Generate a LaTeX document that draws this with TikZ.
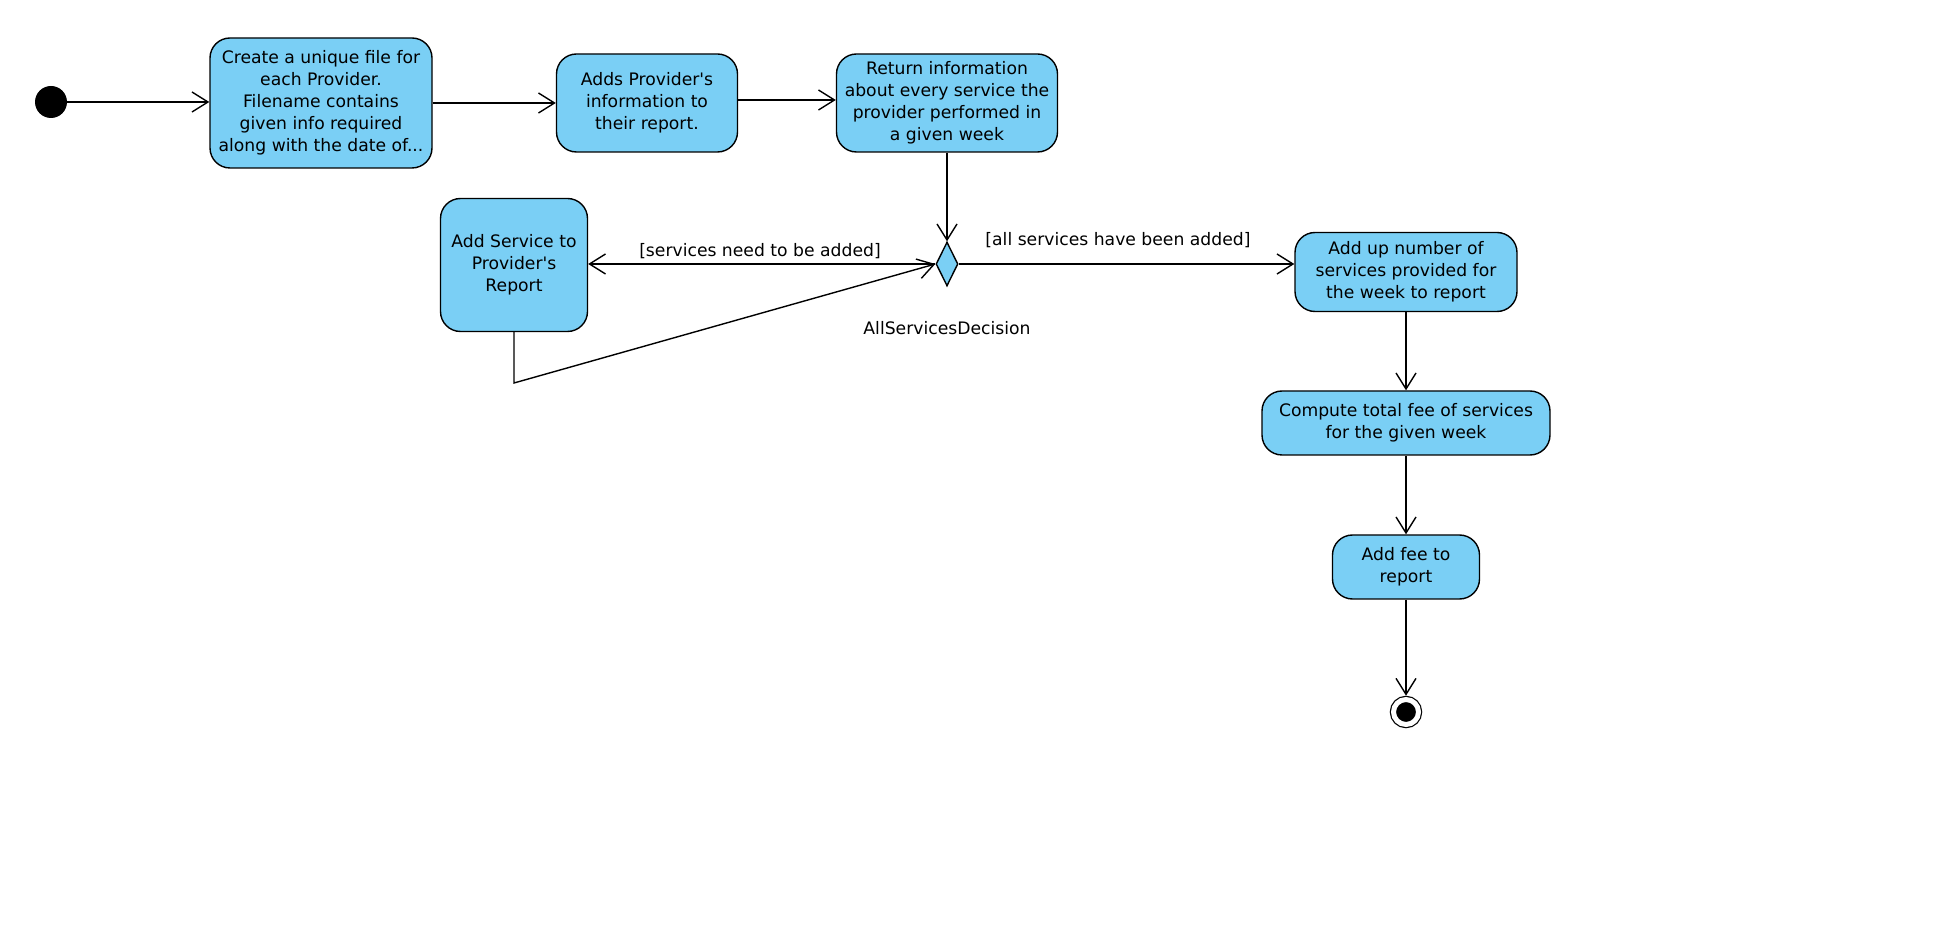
\documentclass[tikz,border=0pt]{standalone}
\usepackage{fontspec}
\setmainfont{DejaVu Sans}
\usepackage{tikz}
\usetikzlibrary{positioning,shapes,shapes.geometric,arrows.meta,calc}
\usepackage{xcolor}
\definecolor{actblue}{RGB}{122,207,245}

\begin{document}
\begin{tikzpicture}[
    x=0.5pt, y=-0.5pt,
    activity/.style={rectangle, draw, line width=0.7pt, fill=actblue, rounded corners=10pt, align=center, font=\fontsize{8.6}{11}\selectfont, inner sep=2pt},
    decision/.style={diamond, draw, line width=0.7pt, fill=actblue, inner sep=0pt, minimum width=11pt, minimum height=22pt},
    initial/.style={circle, fill=black, inner sep=0pt, minimum size=16pt},
    final/.style={circle, draw, fill=black, line width=0.6pt, double=white, double distance=2.5pt, inner sep=0pt, minimum size=12.5pt, outer sep=1.9pt},
    guard/.style={font=\fontsize{8.6}{11}\selectfont, inner sep=1pt},
    arrow/.style={draw, line width=0.7pt, -{Straight Barb[length=8pt,width=10pt,line width=0.7pt]}} % open V tip
]
    \useasboundingbox (0,0) rectangle (1956,946);

    % Nodes
    \node (start) [initial] at (51,102) {};
    \node (createfile) [activity, minimum width=111pt, minimum height=65pt] at (321,103) {Create a unique file for\\each Provider.\\Filename contains\\given info required\\along with the date of...};
    \node (addinfo) [activity, minimum width=90.5pt, minimum height=49pt] at (647,103) {Adds Provider\textquotesingle s\\information to\\their report.};
    \node (returninfo) [activity, minimum width=110.5pt, minimum height=49pt] at (947,103) {Return information\\about every service the\\provider performed in\\a given week};
    \node (decision) [decision] at (947,264) {};
    \node (addservice) [activity, minimum width=73.5pt, minimum height=66.5pt] at (514,265) {Add Service to\\Provider\textquotesingle s\\Report};
    \node (addup) [activity, minimum width=111pt, minimum height=39.5pt] at (1406,272) {Add up number of\\services provided for\\the week to report};
    \node (computefee) [activity, minimum width=144pt, minimum height=32pt] at (1406,423) {Compute total fee of services\\for the given week};
    \node (addfee) [activity, minimum width=73.5pt, minimum height=32pt] at (1406,567) {Add fee to\\report};
    \node (end) [final] at (1406,712) {};
    \coordinate (loopbend) at (514,383);

    % Labels
    \node (needlabel) [guard] at (760,251) {[services need to be added]};
    \node (alllabel) [guard] at (1118,240) {[all services have been added]};
    \node (declabel) [guard] at (947,328) {AllServicesDecision};

    % Connections
    \path [arrow] (start) -- (createfile.west |- start);
    \path [arrow] (createfile) -- (addinfo);
    \path [arrow] (addinfo.east |- 0,100) -- (returninfo.west |- 0,100);
    \path [arrow] (returninfo) -- (decision);
    \path [arrow] (decision.west) -- (addservice.east |- decision.west);
    \path [arrow] (addservice.south) -- (loopbend) -- (decision.west);
    \path [arrow] (decision.east) -- (addup.west |- decision.east);
    \path [arrow] (addup) -- (computefee);
    \path [arrow] (computefee) -- (addfee);
    \path [arrow] (addfee) -- (end);

\end{tikzpicture}
\end{document}
